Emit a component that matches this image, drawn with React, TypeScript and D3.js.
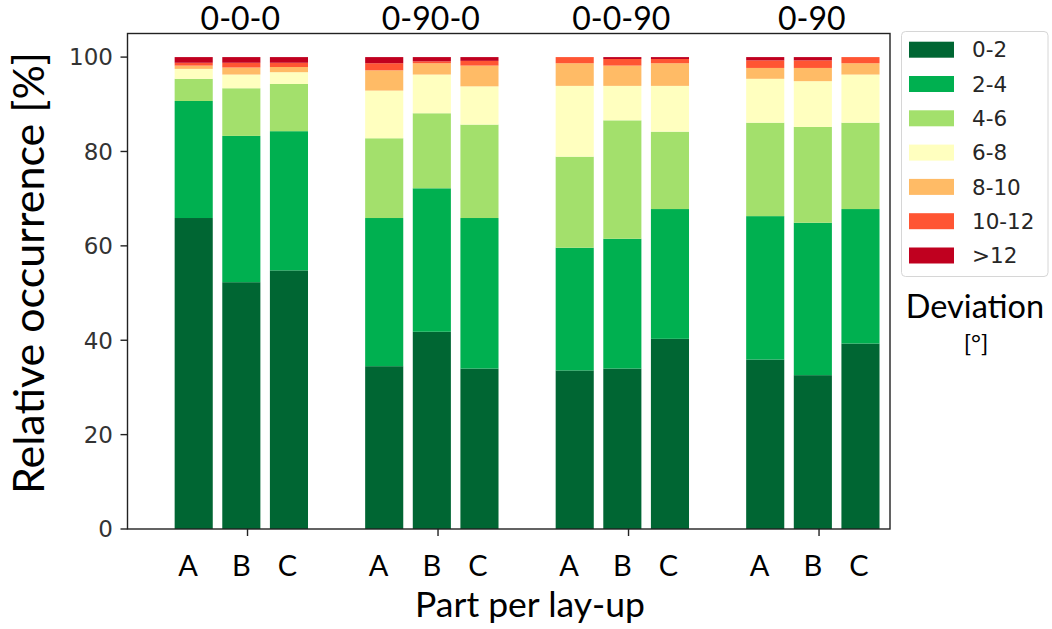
import React from "react";
import * as d3 from "d3";

const groups = ["0-0-0", "0-90-0", "0-0-90", "0-90"];
const parts = ["A", "B", "C"];
const bins = ["0-2", "2-4", "4-6", "6-8", "8-10", "10-12", ">12"];
const binColors = ["#006633", "#00b050", "#a3e06c", "#ffffbf", "#ffbb66", "#ff5533", "#c0001f"];
const yTicks = [0, 20, 40, 60, 80, 100];

// values [%] per bar (group order, then A, B, C), bins bottom-to-top
const share_0_0_0 = [
  [65.9, 24.8, 4.7, 2.1, 0.7, 0.6, 1.2],
  [52.3, 31.0, 10.1, 2.9, 1.5, 1.0, 1.2],
  [54.8, 29.5, 10.0, 2.5, 1.1, 0.9, 1.2],
];
const share_0_90_0 = [
  [34.5, 31.4, 16.9, 10.1, 4.3, 1.5, 1.3],
  [41.8, 30.4, 15.9, 8.2, 2.4, 0.4, 0.9],
  [34.0, 31.9, 19.8, 8.1, 4.4, 1.0, 0.8],
];
const share_0_0_90 = [
  [33.6, 26.0, 19.3, 15.0, 4.8, 1.3, 0.0],
  [34.0, 27.5, 25.1, 7.3, 4.3, 1.4, 0.4],
  [40.3, 27.5, 16.4, 9.7, 4.8, 0.9, 0.4],
];
const share_0_90 = [
  [35.9, 30.4, 19.8, 9.3, 2.3, 1.6, 0.7],
  [32.6, 32.3, 20.3, 9.7, 2.8, 1.6, 0.7],
  [39.3, 28.5, 18.3, 10.2, 2.4, 1.3, 0.0],
];
const groupValues = [share_0_0_0, share_0_90_0, share_0_0_90, share_0_90];

const W = 1052;
const H = 629;
const left = 127.5;
const right = 890;
const top = 33.5;
const bottom = 529;

const humanist = "Lato, 'Open Sans', sans-serif";
const tickFont = "'DejaVu Sans', sans-serif";

export default function App() {
  const x = d3.scaleLinear().domain([-1.39, 14.62]).range([left, right]);
  const y = d3.scaleLinear().domain([0, 105]).range([bottom, top]);
  const barW = x(0.8) - x(0);

  const bars: { key: string; xi: number; vals: number[]; part: string; g: number }[] = [];
  groupValues.forEach((gv, g) => {
    gv.forEach((vals, p) => {
      bars.push({ key: `${g}-${p}`, xi: g * 4 + p, vals, part: parts[p], g });
    });
  });
  const stack = d3.stack<number[]>().keys(bins.map((_, i) => String(i))).value((d, k) => d[+k]);
  const series = stack(bars.map((b) => b.vals));

  // offsets of the A/B/C labels and the group tick marks relative to bar centres
  const labelShift = [-0.12, 0.0, -0.03];
  const tickShift = 1.13;

  return (
    <svg width={W} height={H} style={{ position: "absolute", left: 0, top: 0, background: "#fff" }}>
      {/* bars */}
      {series.map((s, si) => (
        <g key={si} fill={binColors[si]}>
          {s.map((d, bi) => (
            <rect
              key={bi}
              x={x(bars[bi].xi) - barW / 2}
              width={barW}
              y={y(d[1])}
              height={Math.max(0, y(d[0]) - y(d[1]))}
            />
          ))}
        </g>
      ))}

      {/* frame */}
      <rect x={left} y={top} width={right - left} height={bottom - top} fill="none" stroke="#222" strokeWidth={1.4} />

      {/* y ticks */}
      {yTicks.map((t) => (
        <g key={t}>
          <line x1={left - 7} x2={left} y1={y(t)} y2={y(t)} stroke="#222" strokeWidth={1.4} />
          <text
            x={left - 14.5}
            y={y(t)}
            dy="0.36em"
            textAnchor="end"
            fontFamily={tickFont}
            fontSize={23}
            fill="#333"
          >
            {t}
          </text>
        </g>
      ))}

      {/* x group ticks */}
      {groups.map((gname, g) => (
        <line
          key={gname}
          x1={x(g * 4 + tickShift)}
          x2={x(g * 4 + tickShift)}
          y1={bottom}
          y2={bottom + 7}
          stroke="#222"
          strokeWidth={1.4}
        />
      ))}

      {/* A/B/C labels */}
      {bars.map((b) => (
        <text
          key={b.key}
          x={x(b.xi + labelShift[parts.indexOf(b.part)])}
          y={576}
          textAnchor="middle"
          fontFamily={humanist}
          fontSize={29}
          fill="#000"
        >
          {b.part}
        </text>
      ))}

      {/* group titles */}
      {groups.map((gname, g) => (
        <text
          key={gname}
          x={x(g * 4 + 1) - 1}
          y={29.5}
          textAnchor="middle"
          fontFamily={humanist}
          fontSize={32}
          fill="#000"
        >
          {gname}
        </text>
      ))}

      {/* axis titles */}
      <text
        transform={`translate(44, 273) rotate(-90)`}
        textAnchor="middle"
        fontFamily={humanist}
        fontSize={43}
        fill="#000"
      >
        Relative occurrence [%]
      </text>
      <text x={530} y={617} textAnchor="middle" fontFamily={humanist} fontSize={35.5} fill="#000">
        Part per lay-up
      </text>

      {/* legend */}
      <rect x={901.5} y={31.5} width={146.5} height={245} rx={4} fill="#fff" stroke="#d6d6d6" strokeWidth={1} />
      {bins.map((b, i) => (
        <g key={b}>
          <rect x={909} y={41.7 + i * 34.3} width={45} height={16} fill={binColors[i]} />
          <text
            x={972}
            y={41.7 + i * 34.3 + 8}
            dy="0.36em"
            fontFamily={tickFont}
            fontSize={21.5}
            fill="#262626"
          >
            {b}
          </text>
        </g>
      ))}
      <text x={975} y={318} textAnchor="middle" fontFamily={humanist} fontSize={32.5} fill="#000">
        Deviation
      </text>
      <text x={976} y={352} textAnchor="middle" fontFamily={humanist} fontSize={24} fill="#000">
        [°]
      </text>
    </svg>
  );
}
